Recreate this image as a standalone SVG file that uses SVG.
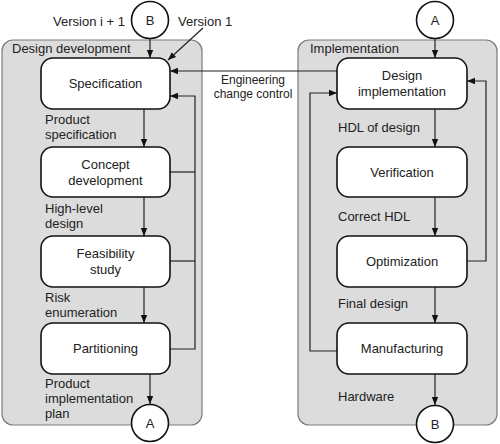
<svg xmlns="http://www.w3.org/2000/svg" width="500" height="444" viewBox="0 0 500 444">
<defs>
<style>
text{font-family:"Liberation Sans",Arial,sans-serif;font-size:13px;fill:#222}
.c{text-anchor:middle}
.s{font-size:12px}
.panel{fill:#dcdcdc;stroke:#7a7a7a;stroke-width:1.2}
.box{fill:#fff;stroke:#111;stroke-width:1.6}
.circ{fill:#fff;stroke:#111;stroke-width:1.6}
.ln{fill:none;stroke:#222;stroke-width:1.2}
</style>
<marker id="ah" viewBox="0 0 10 10" refX="10" refY="5" markerWidth="8" markerHeight="8" markerUnits="userSpaceOnUse" orient="auto">
<path d="M0,1 L10,5 L0,9 Z" fill="#111"/>
</marker>
</defs>

<g id="panel-design">
<rect class="panel" x="2" y="40" width="200" height="385" rx="11"/>
<text x="12" y="53">Design development</text>
</g>
<g id="panel-impl">
<rect class="panel" x="298" y="40" width="199" height="385" rx="11"/>
<text x="310" y="53">Implementation</text>
</g>

<g id="connectors">
<line class="ln" x1="150" y1="38" x2="150" y2="58" marker-end="url(#ah)"/>
<line class="ln" x1="203" y1="28" x2="168" y2="60" marker-end="url(#ah)"/>
<line class="ln" x1="144" y1="109" x2="144" y2="147" marker-end="url(#ah)"/>
<line class="ln" x1="144" y1="197" x2="144" y2="236" marker-end="url(#ah)"/>
<line class="ln" x1="144" y1="287" x2="144" y2="323" marker-end="url(#ah)"/>
<line class="ln" x1="150" y1="374" x2="150" y2="404" marker-end="url(#ah)"/>
<polyline class="ln" points="170,349 195,349 195,96 170,96" marker-end="url(#ah)"/>
<line class="ln" x1="170" y1="172" x2="195" y2="172"/>
<line class="ln" x1="170" y1="261" x2="195" y2="261"/>
<line class="ln" x1="337" y1="71" x2="170" y2="71" marker-end="url(#ah)"/>
<line class="ln" x1="435" y1="38" x2="435" y2="58" marker-end="url(#ah)"/>
<line class="ln" x1="435" y1="109" x2="435" y2="147" marker-end="url(#ah)"/>
<line class="ln" x1="435" y1="197" x2="435" y2="236" marker-end="url(#ah)"/>
<line class="ln" x1="435" y1="287" x2="435" y2="323" marker-end="url(#ah)"/>
<line class="ln" x1="435" y1="374" x2="435" y2="405" marker-end="url(#ah)"/>
<polyline class="ln" points="467,261 486,261 486,81 467,81" marker-end="url(#ah)"/>
<polyline class="ln" points="337,351 310,351 310,93 337,93" marker-end="url(#ah)"/>
</g>

<g id="labels">
<text x="53" y="26">Version i + 1</text>
<text x="178" y="26">Version 1</text>
<text class="c s" x="253" y="84">Engineering</text>
<text class="c s" x="253" y="98">change control</text>
<text x="45" y="124">Product</text>
<text x="45" y="139">specification</text>
<text x="45" y="213">High-level</text>
<text x="45" y="228">design</text>
<text x="45" y="302">Risk</text>
<text x="45" y="317">enumeration</text>
<text x="45" y="388">Product</text>
<text x="45" y="403">implementation</text>
<text x="45" y="418">plan</text>
<text x="338" y="132">HDL of design</text>
<text x="338" y="221">Correct HDL</text>
<text x="338" y="308">Final design</text>
<text x="338" y="401">Hardware</text>
</g>

<g id="B-top"><circle class="circ" cx="150" cy="20" r="18.5"/><text class="c" x="150" y="25">B</text></g>
<g id="A-top"><circle class="circ" cx="435" cy="20" r="18.5"/><text class="c" x="435" y="25">A</text></g>
<g id="A-bottom"><circle class="circ" cx="150" cy="423" r="18.5"/><text class="c" x="150" y="428">A</text></g>
<g id="B-bottom"><circle class="circ" cx="435" cy="424" r="18.5"/><text class="c" x="435" y="429">B</text></g>

<g id="specification"><rect class="box" x="41" y="58" width="129" height="51" rx="12"/><text class="c" x="105.5" y="88">Specification</text></g>
<g id="concept"><rect class="box" x="41" y="147" width="129" height="50" rx="12"/><text class="c" x="105.5" y="169">Concept</text><text class="c" x="105.5" y="185">development</text></g>
<g id="feasibility"><rect class="box" x="41" y="236" width="129" height="51" rx="12"/><text class="c" x="105.5" y="258">Feasibility</text><text class="c" x="105.5" y="274">study</text></g>
<g id="partitioning"><rect class="box" x="41" y="323" width="129" height="51" rx="12"/><text class="c" x="105.5" y="353">Partitioning</text></g>

<g id="design-impl"><rect class="box" x="337" y="58" width="130" height="51" rx="12"/><text class="c" x="402" y="80">Design</text><text class="c" x="402" y="96">implementation</text></g>
<g id="verification"><rect class="box" x="337" y="147" width="130" height="50" rx="12"/><text class="c" x="402" y="177">Verification</text></g>
<g id="optimization"><rect class="box" x="337" y="236" width="130" height="51" rx="12"/><text class="c" x="402" y="266">Optimization</text></g>
<g id="manufacturing"><rect class="box" x="337" y="323" width="130" height="51" rx="12"/><text class="c" x="402" y="353">Manufacturing</text></g>
</svg>
